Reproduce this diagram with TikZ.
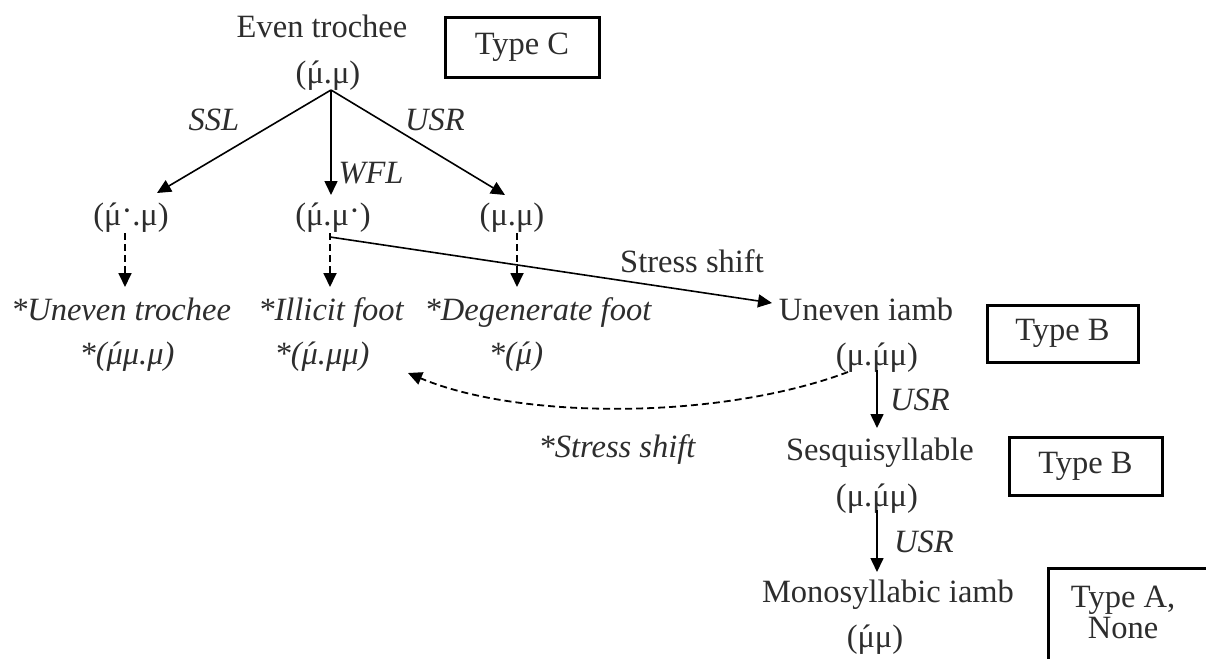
\documentclass[tikz,border=0pt]{standalone}
\usepackage{fontspec}
\setmainfont{Liberation Serif}
\usetikzlibrary{arrows.meta}
\newcommand\mac{\ooalign{μ\cr\hidewidth´\hidewidth\cr}}
\newcommand\hdot{\raisebox{0.25ex}{·}}
\definecolor{txt}{RGB}{45,45,45}
\begin{document}
\begin{tikzpicture}[x=1pt,y=-1pt,
  lbl/.style={font=\fontsize{32.5}{36}\selectfont, text=txt, inner sep=0pt, anchor=base},
  itl/.style={font=\fontsize{32.5}{36}\selectfont\itshape, text=txt, inner sep=0pt, anchor=base},
  typebox/.style={draw, line width=3pt, font=\fontsize{32.5}{36}\selectfont, text=txt, inner sep=0pt},
  arr/.style={line width=1.6pt, -{Triangle[length=14pt,width=13pt]}},
  darr/.style={arr, line width=1.8pt, dash pattern=on 7pt off 4pt}]
\useasboundingbox (0,0) rectangle (1206,658);
\fill[white] (0,0) rectangle (1206,658);
% texts
\node[lbl] (et) at (322,38) {Even trochee};
\node[lbl] (etf) at (328,84) {(\mac.μ)};
\node[lbl] (r2a) at (131,225) {(\mac\hdot.μ)};
\node[lbl] (r2b) at (333,225) {(\mac.μ\hdot)};
\node[lbl] (r2c) at (512,225) {(μ.μ)};
\node[itl] (r3a) at (121,320) {*Uneven trochee};
\node[itl] (r3b) at (331,320) {*Illicit foot};
\node[itl] (r3c) at (538,320) {*Degenerate foot};
\node[lbl] (ui) at (866,320) {Uneven iamb};
\node[itl] (r4a) at (127,364) {*(\mac μ.μ)};
\node[itl] (r4b) at (322,364) {*(\mac.μμ)};
\node[itl] (r4c) at (516,364) {*(\mac)};
\node[lbl] (uif) at (877,365) {(μ.\mac μ)};
\node[lbl] (ss) at (692,272) {Stress shift};
\node[itl] (nss) at (617,457) {*Stress shift};
\node[lbl] (ses) at (880,460) {Sesquisyllable};
\node[lbl] (sesf) at (877,506) {(μ.\mac μ)};
\node[lbl] (mi) at (888,602) {Monosyllabic iamb};
\node[lbl] (mif) at (875,647) {(\mac μ)};
\node[itl] (ssl) at (214,131) {SSL};
\node[itl] (usr) at (435,131) {USR};
\node[itl] (wfl) at (371,183) {WFL};
\node[itl] (usr1) at (920,410) {USR};
\node[itl] (usr2) at (924,552) {USR};
% boxes
\node[typebox, minimum width=154pt, minimum height=60pt] (tc) at (522,47.5) {Type C};
\node[typebox, minimum width=151pt, minimum height=57pt] (tb1) at (1062.5,333.5) {Type B};
\node[typebox, minimum width=153pt, minimum height=58pt] (tb2) at (1085.5,466) {Type B};
\node[font=\fontsize{32.5}{31}\selectfont, text=txt, align=center, inner sep=0pt] (ta) at (1123,612) {Type A,\\None};
\draw[line width=3pt] (1048,660) -- (1048,568) -- (1208,568);
% connector points
\coordinate (o) at (331,90);
\coordinate (a1) at (157,193);
\coordinate (a2) at (331,195);
\coordinate (a3) at (505,195);
\coordinate (d1s) at (125,233); \coordinate (d1e) at (125,287);
\coordinate (d2s) at (330,233); \coordinate (d2e) at (330,287);
\coordinate (d3s) at (517,233); \coordinate (d3e) at (517,287);
\coordinate (sss) at (330,237); \coordinate (sse) at (772,303);
\coordinate (cs) at (848,372); \coordinate (ce) at (408,373);
\coordinate (u1s) at (877,370); \coordinate (u1e) at (877,428);
\coordinate (u2s) at (877,510); \coordinate (u2e) at (877,572);
\draw[arr] (o) -- (a1);
\draw[arr] (o) -- (a2);
\draw[arr] (o) -- (a3);
\draw[darr] (d1s) -- (d1e);
\draw[darr] (d2s) -- (d2e);
\draw[darr] (d3s) -- (d3e);
\draw[arr] (sss) -- (sse);
\draw[darr] (cs) .. controls (720,420) and (520,420) .. (ce);
\draw[arr] (u1s) -- (u1e);
\draw[arr] (u2s) -- (u2e);
\end{tikzpicture}
\end{document}
